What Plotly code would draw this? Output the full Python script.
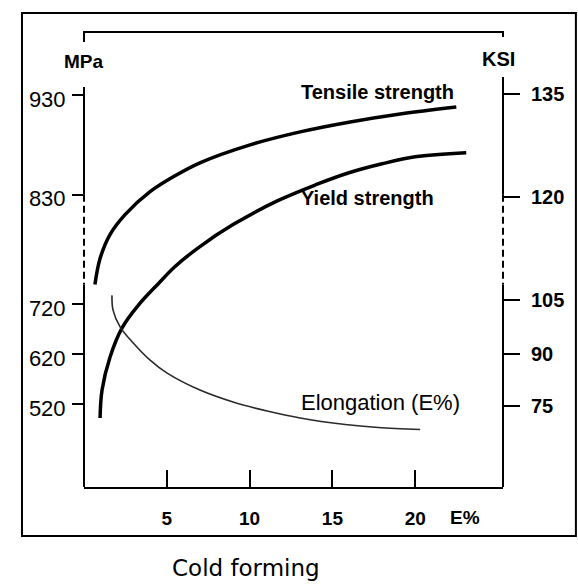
import numpy as np
import plotly.graph_objects as go

# ---------------- data ----------------
cold_work_ts = [0.66, 0.97, 1.57, 2.48, 3.99, 5.5, 7.0, 10.03, 13.05, 16.07, 19.09, 22.48]
tensile_mpa = [740, 766, 790, 810, 833, 849, 862, 880, 893, 903, 911, 918]

cold_work_ys = [0.97, 1.09, 1.57, 2.30, 3.3, 4.5, 5.5, 7.0, 9.0, 11.7, 14.0, 16.0, 18.0, 20.0, 23.08]
yield_mpa = [492, 548, 614, 673, 719, 741, 758, 778, 800, 824, 840, 852, 861, 868, 872]

cold_work_el = [1.69, 1.75, 2.18, 2.96, 3.99, 5.02, 7.0, 9.0, 11.06, 13.05, 15.77, 17.76, 20.3]
elong_equiv = [729, 709, 675, 643, 608, 582, 548, 524, 506, 492, 479, 473, 469]

mpa_ticks = [520, 620, 720, 830, 930]
ksi_ticks = [75, 90, 105, 120, 135]
x_ticks = [5, 10, 15, 20]

MPA_PER_KSI = 6.894757
BREAK = 720       # axis is compressed 2:1 below this value
COMPRESS = 2.0


def broken(v):
    v = np.asarray(v, dtype=float)
    return np.where(v >= BREAK, v, BREAK - (BREAK - v) / COMPRESS)


Y_RANGE = [536.8, 993.2]
X_RANGE = [0, 25.3]

FONT = "Liberation Sans"

fig = go.Figure()
fig.add_trace(go.Scatter(x=cold_work_ts, y=broken(tensile_mpa), mode="lines",
                         line=dict(color="black", width=3.5, shape="spline"),
                         name="Tensile strength", hoverinfo="skip"))
fig.add_trace(go.Scatter(x=cold_work_ys, y=broken(yield_mpa), mode="lines",
                         line=dict(color="black", width=3.5, shape="spline"),
                         name="Yield strength", hoverinfo="skip"))
fig.add_trace(go.Scatter(x=cold_work_el, y=broken(elong_equiv), mode="lines", yaxis="y2",
                         line=dict(color="#2a2a2a", width=1.6, shape="spline"),
                         name="Elongation (E%)", hoverinfo="skip"))

ax_line = dict(color="black", width=2)
dash_line = dict(color="black", width=2, dash="7px,4px")
shapes = [
    # outer frame
    dict(type="rect", xref="paper", yref="paper", x0=-0.148, x1=1.174, y0=-0.1077, y1=1.0418,
         line=dict(color="black", width=2)),
    # top bracket
    dict(type="path", xref="paper", yref="paper",
         path="M 0 0.978 L 0 1 L 1 1 L 1 0.989", line=ax_line),
    # left axis (with break)
    dict(type="line", xref="paper", yref="y", x0=0, x1=0, y0=938, y1=830, line=ax_line),
    dict(type="line", xref="paper", yref="y", x0=0, x1=0, y0=830, y1=740, line=dash_line),
    dict(type="line", xref="paper", yref="y", x0=0, x1=0, y0=740, y1=Y_RANGE[0], line=ax_line),
    # right axis (with break)
    dict(type="line", xref="paper", yref="y", x0=1, x1=1, y0=948, y1=830, line=ax_line),
    dict(type="line", xref="paper", yref="y", x0=1, x1=1, y0=830, y1=740, line=dash_line),
    dict(type="line", xref="paper", yref="y", x0=1, x1=1, y0=740, y1=Y_RANGE[0], line=ax_line),
]

annotations = [
    dict(text="<b>Tensile strength</b>", x=13.0, y=933, xref="x", yref="y",
         xanchor="left", yanchor="middle", showarrow=False, font=dict(family=FONT, size=20, color="black")),
    dict(text="<b>Yield strength</b>", x=13.0, y=827, xref="x", yref="y",
         xanchor="left", yanchor="middle", showarrow=False, font=dict(family=FONT, size=20, color="black")),
    dict(text="Elongation (E%)", x=13.0, y=622, xref="x", yref="y",
         xanchor="left", yanchor="middle", showarrow=False, font=dict(family=FONT, size=22, color="black")),
    dict(text="<b>MPa</b>", x=0, y=0.935, xref="paper", yref="paper",
         xanchor="center", yanchor="middle", showarrow=False, font=dict(family=FONT, size=19, color="black")),
    dict(text="<b>KSI</b>", x=0.990, y=0.9396, xref="paper", yref="paper",
         xanchor="center", yanchor="middle", showarrow=False, font=dict(family=FONT, size=20, color="black")),
    dict(text="<b>E%</b>", x=0.909, y=-0.068, xref="paper", yref="paper",
         xanchor="center", yanchor="middle", showarrow=False, font=dict(family=FONT, size=19, color="black")),
    dict(text="Cold forming", x=0.3866, y=-0.178, xref="paper", yref="paper",
         xanchor="center", yanchor="middle", showarrow=False,
         font=dict(family="DejaVu Sans", size=23, color="black")),
]

fig.update_layout(
    width=578, height=585,
    margin=dict(l=84, r=75, t=32, b=98, pad=0, autoexpand=False),
    paper_bgcolor="white", plot_bgcolor="white",
    showlegend=False,
    shapes=shapes,
    annotations=annotations,
    xaxis=dict(range=X_RANGE, showgrid=False, zeroline=False, showline=True,
               linecolor="black", linewidth=2,
               tickmode="array", tickvals=x_ticks, ticktext=[str(t) for t in x_ticks],
               ticks="inside", ticklen=17, tickwidth=2, tickcolor="black",
               ticklabelstandoff=13,
               tickfont=dict(family=FONT, size=19, color="black", weight="bold")),
    yaxis=dict(range=Y_RANGE, showgrid=False, zeroline=False, showline=False,
               tickmode="array", tickvals=broken(mpa_ticks).tolist(),
               ticktext=[str(t) for t in mpa_ticks],
               ticks="outside", ticklen=11, tickwidth=2, tickcolor="black",
               ticklabelstandoff=2, ticklabelshift=4,
               tickfont=dict(family=FONT, size=22, color="black")),
    yaxis2=dict(range=Y_RANGE, overlaying="y", side="right", anchor="x",
                showgrid=False, zeroline=False, showline=False,
                tickmode="array",
                tickvals=broken(np.array(ksi_ticks) * MPA_PER_KSI).tolist(),
                ticktext=[str(t) for t in ksi_ticks],
                ticks="outside", ticklen=16, tickwidth=2, tickcolor="black",
                ticklabelstandoff=7,
                tickfont=dict(family=FONT, size=20, color="black", weight="bold")),
)

fig.write_html("out.html")
